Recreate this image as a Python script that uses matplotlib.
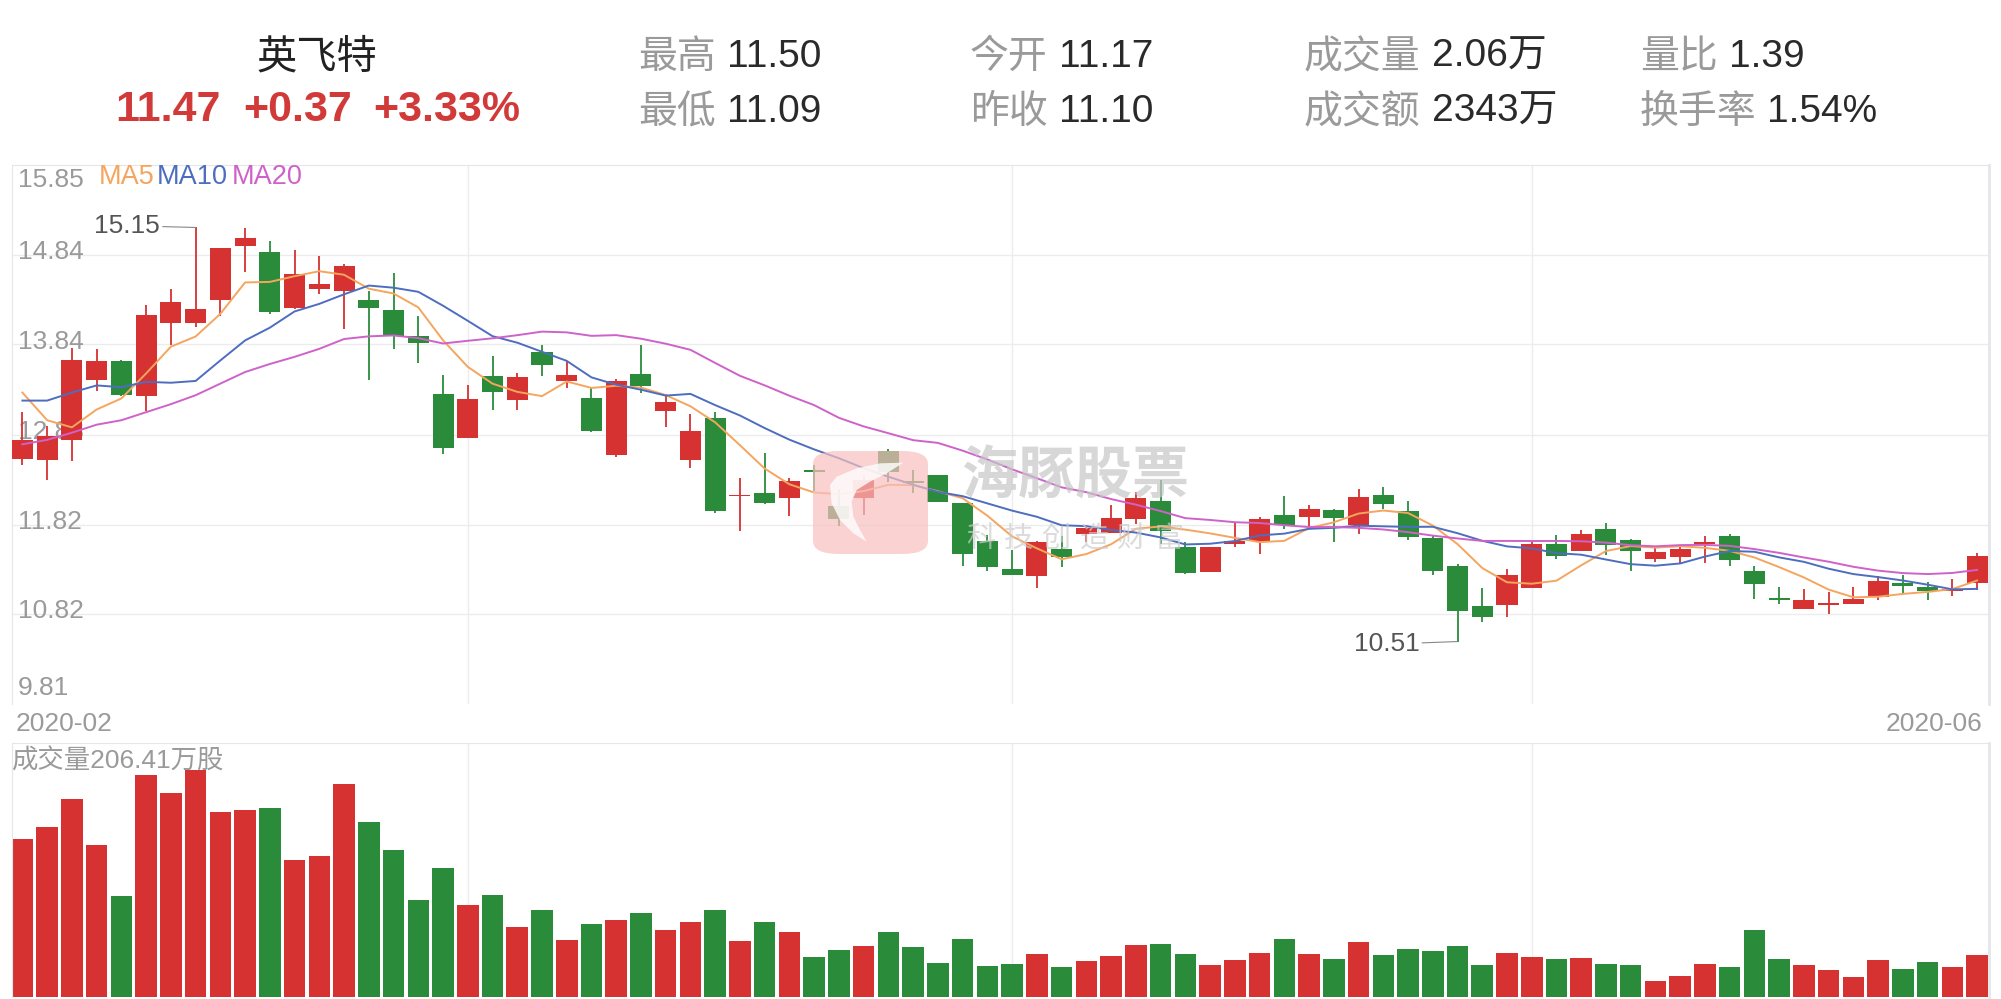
import numpy as np
import pandas as pd
import matplotlib
matplotlib.use("Agg")
import matplotlib.pyplot as plt
from matplotlib.patches import FancyBboxPatch, Polygon

plt.rcParams['font.family'] = ['Liberation Sans', 'Noto Sans CJK SC', 'DejaVu Sans']

# daily candles, 2020-02 .. 2020-06
opens = [12.56, 12.54, 12.77, 13.44, 13.65, 13.26, 14.08, 14.08, 14.34, 14.94,
         14.87, 14.25, 14.46, 14.44, 14.34, 14.22, 13.93, 13.28, 12.79, 13.48,
         13.22, 13.75, 13.43, 13.24, 12.60, 13.51, 13.09, 12.54, 13.02, 12.14,
         12.17, 12.12, 12.43, 12.03, 12.12, 12.64, 12.31, 12.38, 12.06, 11.64,
         11.32, 11.24, 11.55, 11.72, 11.73, 11.88, 12.09, 11.57, 11.29, 11.60,
         11.64, 11.93, 11.91, 11.98, 11.82, 12.15, 11.97, 11.67, 11.36, 10.91,
         10.92, 11.11, 11.60, 11.53, 11.77, 11.65, 11.43, 11.46, 11.60, 11.69,
         11.30, 11.00, 10.87, 10.92, 10.93, 11.01, 11.17, 11.12, 11.08, 11.17]
highs = [13.08, 12.93, 13.80, 13.79, 13.67, 14.28, 14.46, 15.15, 14.92, 15.14,
         15.00, 14.90, 14.83, 14.74, 14.44, 14.64, 14.16, 13.50, 13.38, 13.71,
         13.52, 13.83, 13.65, 13.36, 13.45, 13.83, 13.28, 13.06, 13.08, 12.34,
         12.62, 12.34, 12.49, 12.22, 12.36, 12.67, 12.43, 12.38, 12.06, 11.70,
         11.54, 11.64, 11.69, 11.82, 12.04, 12.19, 12.32, 11.63, 11.57, 11.85,
         11.91, 12.14, 12.04, 11.99, 12.22, 12.24, 12.08, 11.69, 11.38, 11.11,
         11.32, 11.62, 11.70, 11.76, 11.84, 11.66, 11.56, 11.58, 11.69, 11.72,
         11.36, 11.12, 11.10, 11.06, 11.12, 11.24, 11.25, 11.18, 11.21, 11.50]
lows = [12.49, 12.32, 12.53, 13.32, 13.26, 13.09, 13.83, 14.03, 14.16, 14.65,
        14.18, 14.24, 14.40, 14.01, 13.44, 13.79, 13.63, 12.61, 12.79, 13.11,
        13.11, 13.49, 13.35, 12.86, 12.58, 13.30, 12.91, 12.45, 11.95, 11.75,
        12.05, 11.92, 12.20, 11.80, 11.93, 12.30, 12.17, 12.07, 11.36, 11.30,
        11.25, 11.11, 11.35, 11.62, 11.73, 11.83, 11.60, 11.27, 11.29, 11.57,
        11.49, 11.77, 11.81, 11.63, 11.71, 11.99, 11.65, 11.26, 10.51, 10.73,
        10.79, 11.11, 11.44, 11.53, 11.48, 11.30, 11.40, 11.39, 11.39, 11.36,
        10.99, 10.93, 10.87, 10.82, 10.93, 10.98, 11.05, 10.98, 11.02, 11.09]
closes = [12.77, 12.81, 13.67, 13.65, 13.27, 14.17, 14.31, 14.24, 14.92, 15.03,
          14.20, 14.63, 14.52, 14.72, 14.25, 13.93, 13.85, 12.68, 13.23, 13.31,
          13.47, 13.61, 13.50, 12.87, 13.43, 13.37, 13.19, 12.87, 11.97, 12.15,
          12.06, 12.31, 12.41, 11.88, 12.32, 12.41, 12.29, 12.07, 11.49, 11.34,
          11.25, 11.62, 11.46, 11.78, 11.89, 12.12, 11.75, 11.28, 11.57, 11.64,
          11.88, 11.82, 12.00, 11.89, 12.13, 12.05, 11.68, 11.30, 10.85, 10.79,
          11.25, 11.60, 11.47, 11.71, 11.59, 11.53, 11.51, 11.55, 11.62, 11.42,
          11.16, 10.97, 10.97, 10.94, 10.99, 11.19, 11.13, 11.08, 11.10, 11.47]
# volume in 万股
volumes = [771, 830, 968, 742, 496, 1086, 998, 1111, 904, 914,
           924, 668, 688, 1042, 855, 717, 472, 629, 452, 501,
           344, 423, 280, 359, 378, 413, 329, 369, 423, 275,
           369, 319, 197, 231, 251, 319, 246, 167, 285, 152,
           162, 211, 147, 177, 201, 256, 260, 211, 157, 182,
           216, 285, 211, 187, 270, 206, 236, 226, 251, 157,
           216, 197, 187, 192, 162, 157, 79, 103, 162, 147,
           329, 187, 157, 133, 98, 182, 138, 172, 147, 206.41]
# moving-average values before enough candles are on screen
ma5_head = [13.30, 12.99, 12.91, 13.11]
ma10_head = [13.21, 13.21, 13.30, 13.38, 13.36, 13.42, 13.41, 13.43, 13.66]
ma20_head = [12.72, 12.77, 12.85, 12.94, 12.99, 13.08, 13.17, 13.27, 13.40, 13.53,
             13.62, 13.70, 13.79, 13.90, 13.93, 13.94, 13.91, 13.85, 13.88]

ytick_vals = [15.85, 14.84, 13.84, 12.83, 11.82, 10.82, 9.81]
month_lines = [18, 40, 61]

head_labels = ['最高', '最低', '今开', '昨收', '成交量', '成交额', '量比', '换手率']
head_values = ['11.50', '11.09', '11.17', '11.10', '2.06万', '2343万', '1.39', '1.54%']
quote_parts = ['11.47', '+0.37', '+3.33%']

RED = '#d63232'
GREEN = '#2a8c3b'
C5, C10, C20 = '#f5a55e', '#4d6dbf', '#cf62c9'
GRAY = '#9a9a9a'
LINE = '#ececec'

W, H = 2001, 999
def fx(x): return x / W
def fy(y): return 1 - y / H

fig = plt.figure(figsize=(W / 100, H / 100), dpi=100)
fig.patch.set_facecolor('white')

o = np.array(opens); c = np.array(closes); hi = np.array(highs); lo = np.array(lows)
x = np.arange(len(c))
up = c >= o
cols = np.where(up, RED, GREEN)

s = pd.Series(c)
ma5 = s.rolling(5).mean().values
ma10 = s.rolling(10).mean().values
ma20 = s.rolling(20).mean().values
ma5[:4] = ma5_head
ma10[:9] = ma10_head
ma20[:19] = ma20_head

# ---- price panel
ax = fig.add_axes([fx(12), fy(704), fx(1989 - 12), (704 - 165) / H])
ax.set_xlim(-0.42, 79.48)
ax.set_ylim(9.81, 15.85)
for t in ytick_vals[1:-1]:
    ax.axhline(t, color=LINE, lw=1, zorder=0)
for m in month_lines:
    ax.axvline(m, color=LINE, lw=1, zorder=0)
ax.vlines(x, lo, hi, colors=cols, lw=1.3, zorder=2)
body = np.maximum(np.abs(c - o), 0.012)
ax.bar(x, body, bottom=np.minimum(o, c), width=0.85, color=cols, zorder=3)
ax.plot(x, ma5, color=C5, lw=1.4, zorder=4)
ax.plot(x, ma10, color=C10, lw=1.4, zorder=4)
ax.plot(x, ma20, color=C20, lw=1.4, zorder=4)
ax.set_xticks([]); ax.set_yticks([])
for sp in ['top', 'left', 'right']:
    ax.spines[sp].set_color('#e4e6ea')
ax.spines['right'].set_linewidth(2)
ax.spines['bottom'].set_visible(False)

ytr = ax.get_yaxis_transform()
for i, t in enumerate(ytick_vals):
    va = 'top' if i == 0 else ('bottom' if i == len(ytick_vals) - 1 else 'center')
    yy = t - 0.03 if i == 0 else (t + 0.04 if i == len(ytick_vals) - 1 else t + 0.03)
    ax.text(0.0028, yy, f'{t:.2f}', transform=ytr, color=GRAY, fontsize=19,
            va=va, ha='left', zorder=1)

# MA legend
fig.text(fx(99), fy(177), 'MA5', color=C5, fontsize=19.5, va='center')
fig.text(fx(157), fy(177), 'MA10', color=C10, fontsize=19.5, va='center')
fig.text(fx(232), fy(177), 'MA20', color=C20, fontsize=19.5, va='center')

# high / low markers
ih = int(np.argmax(hi)); il = int(np.argmin(lo))
ax.annotate(f'{hi[ih]:.2f}', xy=(ih, hi[ih]), xytext=(ih - 4.1, hi[ih] + 0.02),
            color='#555555', fontsize=19, va='center', ha='left',
            arrowprops=dict(arrowstyle='-', color='#888888', lw=0.8,
                            shrinkA=0, shrinkB=0))
ax.annotate(f'{lo[il]:.2f}', xy=(il, lo[il]), xytext=(il - 4.2, lo[il] - 0.03),
            color='#555555', fontsize=19, va='center', ha='left',
            arrowprops=dict(arrowstyle='-', color='#888888', lw=0.8,
                            shrinkA=0, shrinkB=0))

fig.text(fx(16), fy(724), '2020-02', color=GRAY, fontsize=19, va='center', ha='left')
fig.text(fx(1982), fy(724), '2020-06', color=GRAY, fontsize=19, va='center', ha='right')

# ---- volume panel
vax = fig.add_axes([fx(12), fy(997), fx(1989 - 12), (997 - 743) / H])
vax.set_xlim(-0.42, 79.48)
vax.set_ylim(0, 1242)
for m in month_lines:
    vax.axvline(m, color=LINE, lw=1, zorder=0)
vax.bar(x, volumes, width=0.87, color=cols, zorder=2)
vax.set_xticks([]); vax.set_yticks([])
for sp in ['top', 'left', 'right']:
    vax.spines[sp].set_color('#e4e6ea')
vax.spines['right'].set_linewidth(2)
vax.spines['bottom'].set_visible(False)
fig.text(fx(11), fy(761), f'成交量{volumes[-1]:.2f}万股', color=GRAY, fontsize=19,
         va='center', ha='left', family=['Liberation Sans', 'Noto Sans CJK SC'])

# ---- watermark
logo = FancyBboxPatch((fx(825), fy(548)), fx(91), (548 - 457) / H,
                      boxstyle='round,pad=0.006,rounding_size=0.013',
                      transform=fig.transFigure, facecolor='#f8c0c0', edgecolor='none',
                      alpha=0.7, zorder=10)
fig.patches.append(logo)
fin = [(310, 98), (240, 100), (170, 115), (110, 140), (90, 165), (95, 220),
       (120, 270), (160, 310), (200, 335), (180, 300), (160, 260), (155, 215),
       (170, 180), (210, 155), (260, 130)]
fin = [(fx(800 + a / 3), fy(430 + b / 3)) for a, b in fin]
fig.patches.append(Polygon(fin, closed=True, transform=fig.transFigure,
                           facecolor='white', edgecolor='none', alpha=0.8, zorder=11))
fig.text(fx(1075), fy(477), '海豚股票', fontsize=41, fontweight='bold', color='#c6c6c6',
         alpha=0.7, ha='center', va='center', family='Noto Sans CJK SC', zorder=11)
for k, ch in enumerate('科技创造财富'):
    fig.text(fx(981 + k * 37.6), fy(539), ch, fontsize=21, color='#cccccc', alpha=0.7,
             ha='center', va='center', family='Noto Sans CJK SC', zorder=11)

# ---- header
fig.text(fx(317), fy(57), '英飞特', fontsize=29, color='#222222', ha='center', va='center',
         family='Noto Sans CJK SC')
for xx, part in zip([115, 243, 373], quote_parts):
    fig.text(fx(xx), fy(110), part, fontsize=31, fontweight='bold', color='#d23a3a',
             ha='left', va='center')
lab_x = [638, 638, 970, 970, 1304, 1304, 1640, 1640]
val_x = [727, 727, 1059, 1059, 1432, 1432, 1729, 1767]
for k, (lb, vv) in enumerate(zip(head_labels, head_values)):
    yy = 57 if k % 2 == 0 else 112
    fig.text(fx(lab_x[k]), fy(yy), lb, fontsize=28, color=GRAY, ha='left', va='center',
             family='Noto Sans CJK SC')
    fig.text(fx(val_x[k]), fy(yy), vv, fontsize=28, color='#2a2a2a', ha='left', va='center',
             family=['Liberation Sans', 'Noto Sans CJK SC'])

fig.savefig('out.png', dpi=100)
